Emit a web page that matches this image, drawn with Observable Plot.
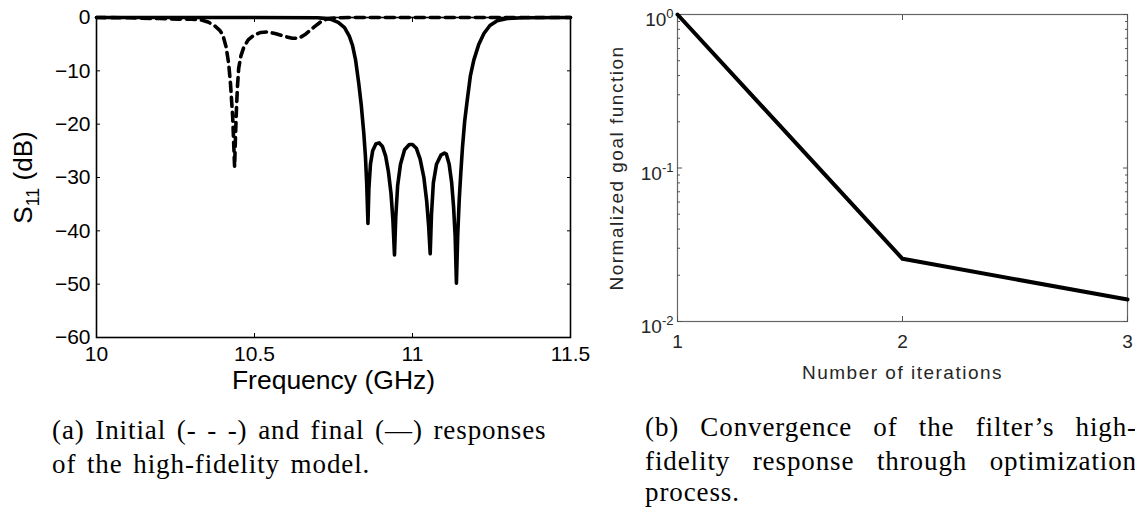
<!DOCTYPE html>
<html><head><meta charset="utf-8">
<script src="https://cdn.jsdelivr.net/npm/d3@7"></script>
<script src="https://cdn.jsdelivr.net/npm/@observablehq/plot@0.6"></script>
<style>
html,body{margin:0;padding:0;background:#fff;width:1135px;height:507px;overflow:hidden;}
body{position:relative;}
#a{position:absolute;left:0;top:0;width:600px;}
#b{position:absolute;left:590px;top:0;width:545px;}
svg{max-width:none !important;}
.cap{position:absolute;font-family:"Liberation Serif","Times New Roman",serif;font-size:27px;color:#000;line-height:34px;letter-spacing:0.9px;word-spacing:3px;}
.cap div{white-space:nowrap;}
.cap .j{text-align:justify;text-align-last:justify;white-space:normal;}
.cap .last{line-height:28px;}
#capA{left:52px;top:413px;width:520px;}
#capB{left:645px;top:410px;width:492px;}
</style>
</head><body>
<div id="a"></div>
<div id="b"></div>
<div class="cap" id="capA"><div>(a) Initial (- - -) and final (—) responses</div><div>of the high-fidelity model.</div></div>
<div class="cap" id="capB"><div class="j">(b) Convergence of the filter’s high-</div><div class="j">fidelity response through optimization</div><div class="last">process.</div></div>
<script>
// ---- Panel (a): S11 responses ----
const freqInitial = [10.00, 10.10, 10.20, 10.26, 10.30, 10.33, 10.355, 10.375, 10.39, 10.40, 10.41, 10.418, 10.424, 10.431, 10.437, 10.440, 10.443, 10.446, 10.450, 10.457, 10.466, 10.48, 10.498, 10.52, 10.54, 10.565, 10.593, 10.62, 10.64, 10.66, 10.688, 10.71, 10.73, 10.76, 10.80, 11.00, 11.50];
const s11Initial  = [0, -0.05, -0.2, -0.3, -0.3, -0.45, -0.9, -1.6, -2.4, -3.3, -5.5, -8.5, -12.4, -18.7, -28, -22, -17, -13, -9.5, -7.2, -5.6, -4.2, -3.3, -2.8, -2.7, -3.0, -3.5, -3.9, -3.9, -3.2, -1.8, -0.8, -0.25, -0.05, 0, 0, 0];

const freqFinal = [10.00, 10.50, 10.70, 10.74, 10.765, 10.785, 10.80, 10.81, 10.82, 10.83, 10.838, 10.846, 10.851, 10.855, 10.859, 10.862, 10.867, 10.874, 10.884, 10.894, 10.905, 10.915, 10.924, 10.932, 10.938, 10.943, 10.947, 10.953, 10.962, 10.975, 10.99, 11.00, 11.012, 11.024, 11.036, 11.045, 11.051, 11.056, 11.06, 11.066, 11.076, 11.09, 11.101, 11.107, 11.116, 11.124, 11.13, 11.135, 11.139, 11.143, 11.148, 11.153, 11.158, 11.165, 11.173, 11.183, 11.194, 11.21, 11.226, 11.245, 11.268, 11.30, 11.35, 11.50];
const s11Final  = [0, 0, -0.05, -0.3, -0.9, -1.9, -3.5, -5.2, -8, -12.4, -16.5, -21.8, -26, -31, -38.6, -32, -27.5, -25, -23.7, -23.5, -24.2, -26, -29, -33, -38, -44.5, -37.5, -31.5, -27.5, -24.8, -23.8, -23.8, -24.5, -26.5, -30, -34.5, -39, -44.3, -37, -31, -27.5, -25.8, -25.4, -25.6, -27.5, -31, -35.5, -41, -49.8, -41, -34, -29, -24.5, -19.5, -15.6, -11, -8, -5, -3, -1.5, -0.6, -0.2, -0.05, 0];

const xTicksA = [10, 10.5, 11, 11.5];
const yTicksA = [0, -10, -20, -30, -40, -50, -60];
const xLabelA = "Frequency (GHz)";
const yLabelA = "S11 (dB)";

// ---- Panel (b): convergence ----
const iterations = [1, 2, 3];
const goalValues = [1, 0.0256, 0.0139];
const xTicksB = [1, 2, 3];
const yTicksB = [1, 0.1, 0.01];
const yMinorB = [0.02,0.03,0.04,0.05,0.06,0.07,0.08,0.09,0.2,0.3,0.4,0.5,0.6,0.7,0.8,0.9];
const xLabelB = "Number of iterations";
const yLabelB = "Normalized goal function";

const initialData = freqInitial.map((f, i) => ({f, s: s11Initial[i]}));
const finalData = freqFinal.map((f, i) => ({f, s: s11Final[i]}));
const convData = iterations.map((n, i) => ({n, g: goalValues[i]}));

const minus = d => d < 0 ? "\u2212" + Math.abs(d) : String(d);

const plotA = Plot.plot({
  width: 600, height: 400,
  marginLeft: 96, marginRight: 30, marginTop: 17, marginBottom: 63,
  x: {domain: [10, 11.5]},
  y: {domain: [-60, 0]},
  style: {fontFamily: "'Liberation Sans', Arial, sans-serif", fontSize: "21px", color: "#000", background: "#fff", overflow: "visible"},
  marks: [
    Plot.frame({stroke: "#000", strokeWidth: 1.6}),
    Plot.axisX({ticks: xTicksA, anchor: "bottom", tickSize: 0, tickPadding: 9, tickFormat: d => String(d), label: null}),
    Plot.axisX({ticks: xTicksA, anchor: "bottom", tickSize: 4, dy: -4, fill: "none", label: null}),
    Plot.axisX({ticks: xTicksA, anchor: "top", tickSize: 4, dy: 4, fill: "none", label: null}),
    Plot.axisY({ticks: yTicksA, anchor: "left", tickSize: 0, tickPadding: 6, tickFormat: minus, label: null}),
    Plot.axisY({ticks: yTicksA, anchor: "left", tickSize: 4, dx: 4, fill: "none", label: null}),
    Plot.axisY({ticks: yTicksA, anchor: "right", tickSize: 4, dx: -4, fill: "none", label: null}),
    Plot.line(initialData, {x: "f", y: "s", stroke: "#000", strokeWidth: 3.6, strokeDasharray: "9,6"}),
    Plot.line(finalData, {x: "f", y: "s", stroke: "#000", strokeWidth: 3.6}),
    Plot.text([xLabelA], {text: d => d, frameAnchor: "bottom", textAnchor: "middle", dy: 51, fontSize: 26.5}),
    Plot.text([yLabelA], {text: d => d, frameAnchor: "left", textAnchor: "middle", dx: -73, rotate: -90, fontSize: 26})
  ]
});
document.getElementById("a").appendChild(plotA);

const plotB = Plot.plot({
  width: 545, height: 420,
  marginLeft: 87, marginRight: 8, marginTop: 14, marginBottom: 99,
  x: {domain: [1, 3]},
  y: {type: "log", domain: [0.01, 1]},
  style: {fontFamily: "'Liberation Sans', Arial, sans-serif", fontSize: "19px", color: "#262626", background: "#fff", overflow: "visible"},
  marks: [
    Plot.frame({stroke: "#666", strokeWidth: 1.2}),
    Plot.axisX({ticks: xTicksB, anchor: "bottom", tickSize: 0, tickPadding: 13, tickFormat: d => String(d), label: null}),
    Plot.axisX({ticks: xTicksB, anchor: "bottom", tickSize: 5, dy: -5, fill: "none", stroke: "#555", label: null}),
    Plot.axisX({ticks: xTicksB, anchor: "top", tickSize: 5, dy: 5, fill: "none", stroke: "#555", label: null}),
    Plot.axisY({ticks: yTicksB, anchor: "left", tickSize: 0, tickPadding: 4, tickFormat: d => "10^" + Math.round(Math.log10(d)), label: null}),
    Plot.axisY({ticks: yTicksB, anchor: "left", tickSize: 5, dx: 5, fill: "none", stroke: "#555", label: null}),
    Plot.axisY({ticks: yMinorB, anchor: "left", tickSize: 3, dx: 3, fill: "none", stroke: "#555", label: null}),
    Plot.axisY({ticks: yTicksB, anchor: "right", tickSize: 5, dx: -5, fill: "none", stroke: "#555", label: null}),
    Plot.axisY({ticks: yMinorB, anchor: "right", tickSize: 3, dx: -3, fill: "none", stroke: "#555", label: null}),
    Plot.line(convData, {x: "n", y: "g", stroke: "#000", strokeWidth: 4}),
    Plot.text([xLabelB], {text: d => d, frameAnchor: "bottom", textAnchor: "middle", dy: 57, fontSize: 19}),
    Plot.text([yLabelB], {text: d => d, frameAnchor: "left", textAnchor: "middle", dx: -61, rotate: -90, fontSize: 19})
  ]
});
document.getElementById("b").appendChild(plotB);

// labels of panel b: slightly wider letter spacing like the reference
plotB.querySelectorAll("text").forEach(t => {
  if (t.textContent === xLabelB || t.textContent === yLabelB) t.setAttribute("letter-spacing", "1.5px");
});

// subscript for S11 label
plotA.querySelectorAll("text").forEach(t => {
  if (t.textContent !== yLabelA) return;
  const sel = d3.select(t);
  sel.text(null);
  sel.append("tspan").text("S");
  sel.append("tspan").attr("dy", 7).attr("font-size", 18).text("11");
  sel.append("tspan").attr("dy", -7).text("\u00a0(dB)");
});

// superscripts for log tick labels
plotB.querySelectorAll("text").forEach(t => {
  const txt = t.textContent;
  if (!txt.startsWith("10^")) return;
  const e = Number(txt.split("^")[1]);
  const sel = d3.select(t);
  sel.text(null);
  sel.append("tspan").attr("dy", "0.3em").text("10");
  sel.append("tspan").attr("dy", -8).attr("font-size", 13).text(e < 0 ? "-" + Math.abs(e) : String(e));
});
</script>
</body></html>
